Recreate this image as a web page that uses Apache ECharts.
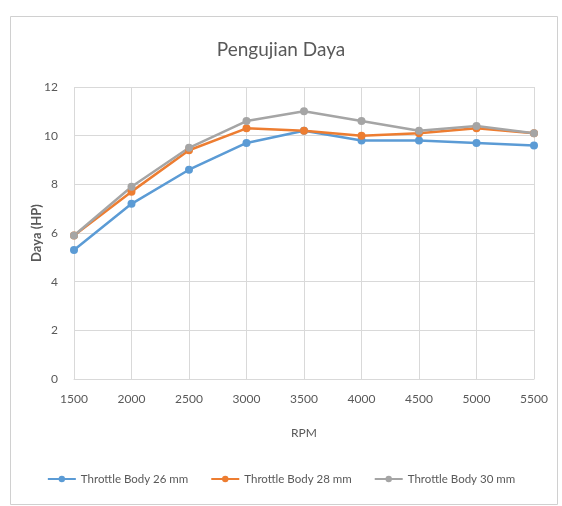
<!DOCTYPE html>
<html>
<head>
<meta charset="utf-8">
<script src="https://cdn.jsdelivr.net/npm/echarts@6/dist/echarts.min.js"></script>
<style>
  html, body { margin: 0; padding: 0; background: #fff; }
  #chart { width: 562px; height: 506px; }
</style>
</head>
<body>
<div id="chart"></div>
<script>
const rpm = ["1500", "2000", "2500", "3000", "3500", "4000", "4500", "5000", "5500"];
const tb26 = [5.3, 7.2, 8.6, 9.7, 10.2, 9.8, 9.8, 9.7, 9.6];
const tb28 = [5.9, 7.7, 9.4, 10.3, 10.2, 10.0, 10.1, 10.3, 10.1];
const tb30 = [5.9, 7.9, 9.5, 10.6, 11.0, 10.6, 10.2, 10.4, 10.1];
const seriesNames = ["Throttle Body 26 mm", "Throttle Body 28 mm", "Throttle Body 30 mm"];
const colors = ["#5b9bd5", "#ed7d31", "#a5a5a5"];

const chart = echarts.init(document.getElementById("chart"));
const font = "Lato, 'Open Sans', sans-serif";

function line(name, data, color) {
  return {
    name: name,
    type: "line",
    data: data,
    symbol: "circle",
    symbolSize: 8,
    lineStyle: { width: 2.5, color: color },
    itemStyle: { color: color },
  };
}

chart.setOption({
  animation: false,
  backgroundColor: "#fff",
  textStyle: { fontFamily: font },
  graphic: [
    {
      type: "rect",
      shape: { x: 10.5, y: 16.5, width: 547, height: 488 },
      style: { fill: "none", stroke: "#d0d0d0", lineWidth: 1 },
    },
  ],
  title: {
    text: "Pengujian Daya",
    left: "center",
    top: 35,
    textStyle: { color: "#595959", fontSize: 19, fontWeight: "normal", fontFamily: font },
  },
  grid: { left: 74, right: 28, top: 87, bottom: 127 },
  legend: {
    bottom: 16,
    left: "center",
    itemGap: 22,
    itemWidth: 28,
    itemHeight: 8,
    textStyle: { color: "#595959", fontSize: 11.5, fontFamily: font },
    data: seriesNames,
  },
  xAxis: {
    type: "category",
    data: rpm,
    boundaryGap: false,
    name: "RPM",
    nameLocation: "middle",
    nameGap: 48,
    nameTextStyle: { color: "#595959", fontSize: 12 },
    axisLine: { lineStyle: { color: "#d9d9d9" } },
    axisTick: { show: false },
    axisLabel: { color: "#595959", fontSize: 12, margin: 14 },
    splitLine: { show: true, lineStyle: { color: "#d9d9d9" } },
  },
  yAxis: {
    type: "value",
    min: 0,
    max: 12,
    interval: 2,
    name: "Daya (HP)",
    nameLocation: "middle",
    nameGap: 31,
    nameMoveOverlap: false,
    nameTextStyle: { color: "#595959", fontSize: 13, fontWeight: "bold" },
    axisLine: { show: false },
    axisTick: { show: false },
    axisLabel: { color: "#595959", fontSize: 12, margin: 16 },
    splitLine: { lineStyle: { color: "#d9d9d9" } },
  },
  series: [
    line(seriesNames[0], tb26, colors[0]),
    line(seriesNames[1], tb28, colors[1]),
    line(seriesNames[2], tb30, colors[2]),
  ],
});
</script>
</body>
</html>
